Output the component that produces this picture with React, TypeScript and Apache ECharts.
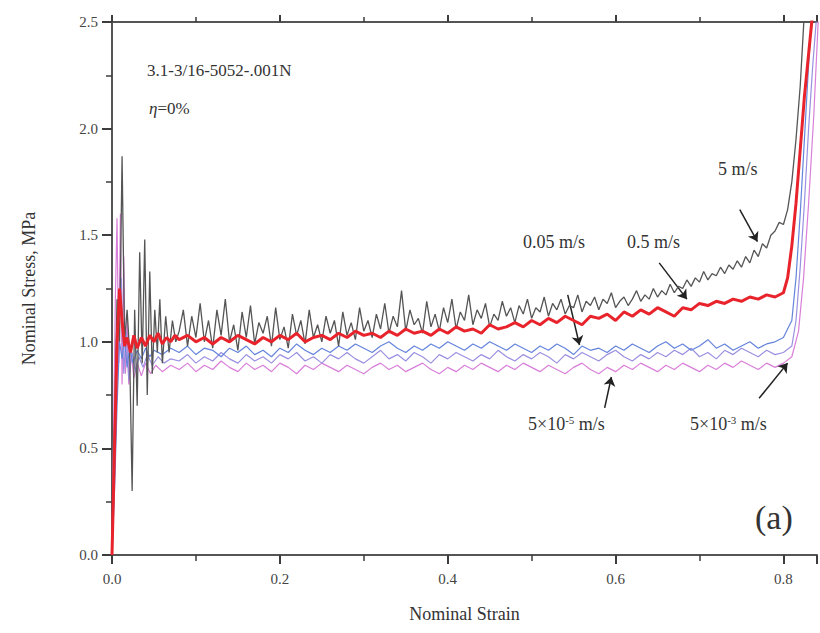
import React, { useEffect, useRef } from "react";
import * as echarts from "echarts";

// strain grid for the plateau region (0.08 .. 0.80)
const GRID_START = 0.08;

// 5 m/s (noisy grey), early part as [strain, stress]
const fastEarly: [number, number][] = [
  [0, 0], [0.003, 0.6], [0.006, 1.2], [0.009, 1.0], [0.012, 1.87], [0.015, 1.0], [0.018, 1.15],
  [0.021, 0.95], [0.024, 0.3], [0.027, 1.15], [0.03, 0.7], [0.033, 1.42], [0.036, 0.9], [0.039, 1.48],
  [0.042, 0.75], [0.045, 1.33], [0.048, 0.85], [0.051, 1.15], [0.054, 0.95], [0.057, 1.2], [0.06, 0.9],
  [0.064, 1.12], [0.068, 0.95], [0.072, 1.1], [0.076, 1.0],
];
// 5 m/s plateau, step 0.005
const fastPlateau: number[] = [
  1.05, 1.15, 0.98, 1.12, 1.02, 1.18, 1.0, 1.1, 0.97, 1.15,
  1.03, 1.2, 1.0, 1.08, 0.96, 1.14, 1.02, 1.17, 0.99, 1.09,
  1.04, 1.12, 0.98, 1.16, 1.01, 1.07, 0.97, 1.13, 1.03, 1.1,
  0.99, 1.15, 1.02, 1.08, 1.0, 1.12, 1.04, 1.1, 0.98, 1.14,
  1.03, 1.09, 1.01, 1.16, 1.05, 1.1, 1.02, 1.13, 1.06, 1.18,
  1.04, 1.12, 1.07, 1.24, 1.05, 1.15, 1.08, 1.11, 1.04, 1.19,
  1.07, 1.13, 1.05, 1.16, 1.09, 1.2, 1.06, 1.14, 1.1, 1.22,
  1.08, 1.15, 1.11, 1.18, 1.07, 1.13, 1.1, 1.19, 1.12, 1.16,
  1.09, 1.17, 1.13, 1.2, 1.11, 1.16, 1.14, 1.21, 1.12, 1.18,
  1.15, 1.2, 1.13, 1.17, 1.16, 1.22, 1.14, 1.19, 1.17, 1.21,
  1.15, 1.2, 1.18, 1.23, 1.16, 1.19, 1.21, 1.17, 1.2, 1.24,
  1.19, 1.22, 1.2, 1.25, 1.21, 1.24, 1.22, 1.27, 1.23, 1.26,
  1.25, 1.29, 1.26, 1.3, 1.28, 1.33, 1.29, 1.32, 1.31, 1.35,
  1.32, 1.36, 1.34, 1.38, 1.35, 1.4, 1.37, 1.43, 1.4, 1.46,
  1.44, 1.5, 1.52, 1.56, 1.55,
];
const fastEnd: [number, number][] = [[0.805, 1.62], [0.81, 1.75], [0.815, 1.95], [0.82, 2.2], [0.825, 2.55]];

// 0.5 m/s (red)
const midEarly: [number, number][] = [
  [0, 0], [0.003, 0.5], [0.006, 1.0], [0.009, 1.25], [0.012, 1.1], [0.015, 0.98], [0.018, 1.02],
  [0.022, 0.95], [0.026, 1.03], [0.03, 0.97], [0.035, 1.02], [0.04, 0.98], [0.045, 1.03], [0.05, 1.0],
  [0.055, 1.04], [0.06, 0.99], [0.065, 1.02], [0.07, 1.0], [0.075, 1.03],
];
// step 0.01
const midPlateau: number[] = [
  1.01, 1.03, 1.0, 1.02, 0.99, 1.02, 1.0, 1.03, 1.01, 0.99,
  1.02, 1.0, 1.03, 1.01, 1.04, 1.0, 1.02, 1.03, 1.01, 1.04,
  1.02, 1.05, 1.03, 1.04, 1.02, 1.05, 1.03, 1.06, 1.04, 1.05,
  1.03, 1.06, 1.04, 1.07, 1.05, 1.06, 1.04, 1.08, 1.06, 1.07,
  1.09, 1.07, 1.1, 1.08, 1.11, 1.09, 1.12, 1.1, 1.08, 1.12,
  1.11, 1.13, 1.1, 1.14, 1.12, 1.15, 1.13, 1.16, 1.14, 1.12,
  1.16, 1.15, 1.18, 1.17, 1.19, 1.18, 1.2, 1.19, 1.21, 1.2,
  1.22, 1.21, 1.23,
];
const midEnd: [number, number][] = [[0.805, 1.3], [0.81, 1.45], [0.815, 1.65], [0.82, 1.9], [0.825, 2.15], [0.83, 2.35], [0.835, 2.55]];

// 0.05 m/s (blue)
const slowEarly: [number, number][] = [
  [0, 0], [0.003, 0.3], [0.006, 0.7], [0.009, 1.0], [0.012, 0.92], [0.015, 1.02], [0.018, 0.88],
  [0.021, 0.97], [0.025, 0.9], [0.03, 0.96], [0.035, 0.92], [0.04, 0.97], [0.045, 0.93], [0.05, 0.96],
  [0.06, 0.94], [0.07, 0.97],
];
const slowPlateau: number[] = [
  0.95, 0.98, 0.94, 0.97, 0.96, 0.93, 0.97, 0.95, 0.98, 0.94,
  0.96, 0.93, 0.97, 0.95, 0.99, 0.96, 0.94, 0.97, 0.95, 0.98,
  0.96, 0.99, 0.97, 0.95, 0.98, 1.0, 0.97, 0.95, 0.98, 0.96,
  0.99, 0.97, 1.0, 0.98, 0.96, 0.99, 0.97, 1.0, 0.98, 0.96,
  0.99, 0.97, 0.95, 0.98, 0.96, 0.99, 0.97, 0.94, 0.98, 0.96,
  0.97, 0.95, 0.98, 0.96, 0.99, 0.97, 0.95, 0.98, 1.0, 0.97,
  0.99, 0.96, 0.98, 1.01, 0.97, 0.99, 0.96, 0.98, 1.0, 0.97,
  0.99, 1.0, 1.02,
];
const slowEnd: [number, number][] = [[0.81, 1.1], [0.815, 1.3], [0.82, 1.6], [0.825, 1.95], [0.83, 2.3], [0.834, 2.55]];

// 5x10^-3 m/s (violet)
const quasiEarly: [number, number][] = [
  [0, 0], [0.004, 0.5], [0.008, 1.1], [0.011, 1.3], [0.014, 0.85], [0.017, 1.05], [0.02, 0.82],
  [0.024, 0.95], [0.028, 0.86], [0.032, 0.93], [0.037, 0.88], [0.042, 0.94], [0.048, 0.89],
  [0.055, 0.93], [0.062, 0.9], [0.07, 0.92],
];
const quasiPlateau: number[] = [
  0.91, 0.94, 0.9, 0.93, 0.91, 0.95, 0.92, 0.9, 0.94, 0.91,
  0.93, 0.9, 0.94, 0.92, 0.95, 0.91, 0.93, 0.9, 0.94, 0.92,
  0.95, 0.92, 0.9, 0.93, 0.96, 0.92, 0.94, 0.91, 0.95, 0.93,
  0.9, 0.94, 0.92, 0.95, 0.93, 0.91, 0.94, 0.92, 0.96, 0.93,
  0.91, 0.94, 0.92, 0.95, 0.93, 0.9, 0.94, 0.92, 0.95, 0.93,
  0.91, 0.94, 0.96, 0.93, 0.91, 0.94, 0.92, 0.95, 0.93, 0.96,
  0.94, 0.97, 0.93, 0.95, 0.92, 0.96, 0.94, 0.97, 0.95, 0.93,
  0.96, 0.94, 0.95,
];
const quasiEnd: [number, number][] = [[0.81, 0.98], [0.815, 1.1], [0.82, 1.35], [0.825, 1.65], [0.83, 2.0], [0.835, 2.3], [0.84, 2.55]];

// 5x10^-5 m/s (magenta)
const staticEarly: [number, number][] = [
  [0, 0], [0.002, 0.6], [0.004, 1.2], [0.006, 1.58], [0.008, 0.9], [0.01, 1.6], [0.012, 0.8],
  [0.014, 1.4], [0.016, 0.85], [0.018, 1.1], [0.02, 0.8], [0.023, 0.95], [0.026, 0.83], [0.03, 0.9],
  [0.035, 0.84], [0.04, 0.9], [0.046, 0.85], [0.052, 0.89], [0.06, 0.86], [0.07, 0.89],
];
const staticPlateau: number[] = [
  0.87, 0.9, 0.86, 0.89, 0.87, 0.91, 0.88, 0.86, 0.9, 0.87,
  0.89, 0.86, 0.9, 0.88, 0.85, 0.89, 0.87, 0.9, 0.88, 0.86,
  0.89, 0.87, 0.85, 0.88, 0.9, 0.87, 0.89, 0.86, 0.88, 0.9,
  0.87, 0.85, 0.88, 0.86, 0.89, 0.87, 0.9, 0.88, 0.86, 0.89,
  0.87, 0.9, 0.88, 0.86, 0.89, 0.87, 0.85, 0.88, 0.9, 0.87,
  0.85, 0.88, 0.86, 0.89, 0.87, 0.9, 0.88, 0.86, 0.89, 0.87,
  0.9, 0.88, 0.86, 0.89, 0.87, 0.9, 0.88, 0.91, 0.89, 0.87,
  0.9, 0.88, 0.9,
];
const staticEnd: [number, number][] = [[0.81, 0.93], [0.818, 1.05], [0.824, 1.3], [0.83, 1.65], [0.836, 2.05], [0.842, 2.55]];

const xTicks = [0, 0.2, 0.4, 0.6, 0.8];
const yTicks = [0, 0.5, 1.0, 1.5, 2.0, 2.5];

function build(early: [number, number][], plateau: number[], step: number, end: [number, number][]) {
  const mid = plateau.map((v, i) => [+(GRID_START + i * step).toFixed(4), v]);
  return [...early, ...mid, ...end];
}

const FONT = "Liberation Serif";
const AX = "#3c3c3c";

export default function App() {
  const ref = useRef<HTMLDivElement>(null);
  useEffect(() => {
    if (!ref.current) return;
    const chart = echarts.init(ref.current, undefined, { renderer: "svg" });
    const arrow = (from: number[], to: number[]) => [{ coord: from }, { coord: to }];
    const sup = { fontSize: 11, fontFamily: FONT, verticalAlign: "top", padding: [0, 0, 9, 0] };
    chart.setOption({
      animation: false,
      backgroundColor: "#fff",
      grid: { left: 112, right: 2, top: 22, bottom: 78 },
      xAxis: [
        {
          type: "value",
          min: 0,
          max: 0.84,
          interval: 0.2,
          name: "Nominal Strain",
          nameLocation: "middle",
          nameGap: 50,
          nameTextStyle: { fontFamily: FONT, fontSize: 18, color: "#333" },
          axisLine: { show: true, onZero: false, lineStyle: { color: "#555", width: 2 } },
          axisTick: { show: true, length: 9, lineStyle: { color: AX, width: 2 } },
          minorTick: { show: true, splitNumber: 2, length: 6, lineStyle: { color: AX, width: 1.5 } },
          axisLabel: {
            fontFamily: FONT,
            fontSize: 15,
            color: "#444",
            margin: 16,
            formatter: (v: number) => (xTicks.some((t) => Math.abs(t - v) < 1e-6) ? v.toFixed(1) : ""),
          },
          splitLine: { show: false },
        },
        {
          type: "value",
          position: "top",
          min: 0,
          max: 0.84,
          interval: 0.2,
          axisLine: { show: true, onZero: false, lineStyle: { color: "#555", width: 2 } },
          axisTick: { show: true, length: 7, lineStyle: { color: AX, width: 2 } },
          minorTick: { show: true, splitNumber: 2, length: 5, lineStyle: { color: AX, width: 1.5 } },
          axisLabel: { show: false },
          splitLine: { show: false },
        },
      ],
      yAxis: {
        type: "value",
        min: 0,
        max: 2.5,
        interval: 0.5,
        name: "Nominal Stress, MPa",
        nameLocation: "middle",
        nameGap: 74,
        nameTextStyle: { fontFamily: FONT, fontSize: 18, color: "#333" },
        axisLine: { show: true, onZero: false, lineStyle: { color: "#555", width: 2 } },
        axisTick: { show: true, length: 10, lineStyle: { color: AX, width: 2 } },
        minorTick: { show: true, splitNumber: 2, length: 6, lineStyle: { color: AX, width: 1.5 } },
        axisLabel: {
          fontFamily: FONT,
          fontSize: 15,
          color: "#444",
          margin: 14,
          formatter: (v: number) => (yTicks.some((t) => Math.abs(t - v) < 1e-6) ? v.toFixed(1) : ""),
        },
        splitLine: { show: false },
      },
      series: [
        {
          name: "5x10^-5 m/s",
          type: "line",
          showSymbol: false,
          data: build(staticEarly, staticPlateau, 0.01, staticEnd),
          lineStyle: { color: "#d97fd9", width: 1.2 },
          z: 2,
        },
        {
          name: "5x10^-3 m/s",
          type: "line",
          showSymbol: false,
          data: build(quasiEarly, quasiPlateau, 0.01, quasiEnd),
          lineStyle: { color: "#9a90e0", width: 1.2 },
          z: 3,
        },
        {
          name: "0.05 m/s",
          type: "line",
          showSymbol: false,
          data: build(slowEarly, slowPlateau, 0.01, slowEnd),
          lineStyle: { color: "#6484dc", width: 1.2 },
          z: 4,
        },
        {
          name: "5 m/s",
          type: "line",
          showSymbol: false,
          data: build(fastEarly, fastPlateau, 0.005, fastEnd),
          lineStyle: { color: "#555", width: 1.3 },
          z: 5,
          markLine: {
            silent: true,
            symbol: ["none", "arrow"],
            symbolSize: 9,
            label: { show: false },
            lineStyle: { color: "#222", width: 1.5, type: "solid" },
            data: [
              arrow([0.748, 1.62], [0.769, 1.47]),
              arrow([0.543, 1.22], [0.557, 0.985]),
              arrow([0.652, 1.37], [0.685, 1.2]),
              arrow([0.587, 0.69], [0.595, 0.835]),
              arrow([0.771, 0.735], [0.805, 0.9]),
            ],
          },
        },
        {
          name: "0.5 m/s",
          type: "line",
          showSymbol: false,
          data: build(midEarly, midPlateau, 0.01, midEnd),
          lineStyle: { color: "#e8232b", width: 3 },
          z: 6,
        },
      ],
      graphic: [
        { type: "text", left: 147, top: 62, style: { text: "3.1-3/16-5052-.001N", font: `17px '${FONT}'`, fill: "#333" } },
        {
          type: "text",
          left: 149,
          top: 100,
          style: {
            text: "{i|η}=0%",
            font: `17px '${FONT}'`,
            fill: "#333",
            rich: { i: { fontStyle: "italic", fontFamily: FONT, fontSize: 17 } },
          },
        },
        { type: "text", left: 718, top: 160, style: { text: "5 m/s", font: `18px '${FONT}'`, fill: "#333" } },
        { type: "text", left: 523, top: 233, style: { text: "0.05 m/s", font: `18px '${FONT}'`, fill: "#333" } },
        { type: "text", left: 627, top: 233, style: { text: "0.5 m/s", font: `18px '${FONT}'`, fill: "#333" } },
        {
          type: "text",
          left: 528,
          top: 414,
          style: { text: "5×10{s|-5} m/s", font: `18px '${FONT}'`, fill: "#333", rich: { s: sup } },
        },
        {
          type: "text",
          left: 690,
          top: 414,
          style: { text: "5×10{s|-3} m/s", font: `18px '${FONT}'`, fill: "#333", rich: { s: sup } },
        },
        { type: "text", left: 755, top: 500, style: { text: "(a)", font: `34px '${FONT}'`, fill: "#333" } },
      ],
    });
    return () => chart.dispose();
  }, []);
  return <div ref={ref} style={{ position: "fixed", left: 0, top: 0, width: 820, height: 633 }} />;
}
